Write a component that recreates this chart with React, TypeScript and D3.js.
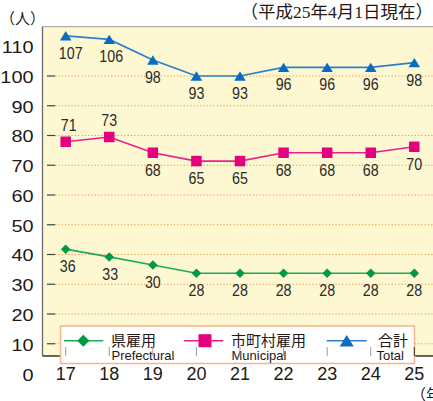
import React from "react";
import * as d3 from "d3";

const years = [17, 18, 19, 20, 21, 22, 23, 24, 25];
const yTicks = [0, 10, 20, 30, 40, 50, 60, 70, 80, 90, 100, 110];
const gridValues = [10, 20, 30, 40, 50, 60, 70, 80, 90, 100];

// plotted marker heights (as drawn in the reference) and printed labels
const prefecturalValues = [41.8, 39.2, 36.5, 33.7, 33.7, 33.7, 33.7, 33.7, 33.7];
const prefecturalLabels = ["36", "33", "30", "28", "28", "28", "28", "28", "28"];
const municipalValues = [77.9, 79.5, 74.2, 71.4, 71.4, 74.2, 74.2, 74.2, 76.2];
const municipalLabels = ["71", "73", "68", "65", "65", "68", "68", "68", "70"];
const totalValues = [113.5, 112.3, 105.4, 100, 100, 102.9, 102.9, 102.9, 104.5];
const totalLabels = ["107", "106", "98", "93", "93", "96", "96", "96", "98"];

const title = "（平成25年4月1日現在）";
const unitLabel = "（人）";
const yearUnit = "（年）";

const W = 433;
const H = 401;
const plotLeft = 42.5;
const plotTop = 26.7;
const plotBottom = 356;

const x = d3.scaleLinear().domain([17, 25]).range([65.7, 414.3]);
const y = d3.scaleLinear().domain([0, 100]).range([373.5, 76]);

type Shape = "diamond" | "square" | "triangle";

function markerPath(shape: Shape, cx: number, cy: number, s: number): string {
  if (shape === "diamond") {
    const r = s / 2;
    return `M${cx},${cy - r}L${cx + r},${cy}L${cx},${cy + r}L${cx - r},${cy}Z`;
  }
  if (shape === "square") {
    const r = s / 2;
    return `M${cx - r},${cy - r}H${cx + r}V${cy + r}H${cx - r}Z`;
  }
  const w = s / 2;
  const h = s * 0.82;
  return `M${cx},${cy - h / 2}L${cx + w},${cy + h / 2}L${cx - w},${cy + h / 2}Z`;
}

const series = [
  {
    name: "県雇用",
    en: "Prefectural",
    values: prefecturalValues,
    labels: prefecturalLabels,
    line: "#1faa5a",
    fill: "#009944",
    shape: "diamond" as Shape,
    size: 9.5,
    above: [false, false, false, false, false, false, false, false, false],
    dx: [2, 1, 0, 0, 0, 0, 0, 0, 0],
  },
  {
    name: "市町村雇用",
    en: "Municipal",
    values: municipalValues,
    labels: municipalLabels,
    line: "#e8208a",
    fill: "#e4007f",
    shape: "square" as Shape,
    size: 10.5,
    above: [true, true, false, false, false, false, false, false, false],
    dx: [3, 0, 0, 0, 0, 0, 0, 0, 0],
  },
  {
    name: "合計",
    en: "Total",
    values: totalValues,
    labels: totalLabels,
    line: "#2a80cc",
    fill: "#0a6cbf",
    shape: "triangle" as Shape,
    size: 11.5,
    above: [false, false, false, false, false, false, false, false, false],
    dx: [5, 2, 0, 0, 0, 0, 0, 0, 0],
  },
];

const legendItems = [
  { lx0: 64, lx1: 103.3, mx: 83.3, tx: 111, ex: 111.5 },
  { lx0: 184, lx1: 223.3, mx: 205, tx: 231, ex: 231.5 },
  { lx0: 326.7, lx1: 366.7, mx: 346.7, tx: 378, ex: 376.5 },
];

const numFont = "'Liberation Sans', Arial, Helvetica, sans-serif";
const cjkFont = "'Noto Sans CJK JP', 'Noto Sans', sans-serif";
const textColor = "#231815";

export default function App() {
  const lineGen = (vals: number[]) =>
    d3
      .line<number>()
      .x((_, i) => x(years[i]))
      .y((v) => y(v))(vals) || "";

  return (
    <svg
      width={W}
      height={H}
      viewBox={`0 0 ${W} ${H}`}
      style={{ position: "absolute", left: 0, top: 0, background: "#ffffff" }}
    >
      {/* plot background */}
      <rect x={plotLeft} y={plotTop} width={W - plotLeft} height={plotBottom - plotTop} fill="#fdf8d2" />

      {/* grid lines */}
      {gridValues.map((v) => (
        <line
          key={`g${v}`}
          x1={55}
          x2={W}
          y1={y(v)}
          y2={y(v)}
          stroke="#f29a55"
          strokeWidth={1}
          strokeDasharray="1.3 2"
        />
      ))}
      {/* inner tick dashes */}
      {gridValues.map((v) => (
        <line key={`t${v}`} x1={47} x2={55} y1={y(v)} y2={y(v)} stroke="#444" strokeWidth={1.2} />
      ))}

      {/* frame */}
      <line x1={plotLeft} x2={W} y1={plotTop} y2={plotTop} stroke="#9a9a9a" strokeWidth={1} />
      <line x1={plotLeft} x2={plotLeft} y1={plotTop} y2={plotBottom} stroke="#6a6a6a" strokeWidth={1.3} />
      <line x1={plotLeft} x2={W} y1={plotBottom} y2={plotBottom} stroke="#333" strokeWidth={1.3} />

      {/* y tick labels */}
      {yTicks.map((v) => (
        <text
          key={`yl${v}`}
          transform={`translate(33.5,${y(v) + 1.5 + (v === 0 ? 1 : 0)}) scale(1.22,1)`}
          textAnchor="end"
          dominantBaseline="central"
          fontFamily={numFont}
          fontSize={16.3}
          fill={textColor}
        >
          {v}
        </text>
      ))}

      {/* x tick labels */}
      {years.map((yr) => (
        <text
          key={`xl${yr}`}
          x={x(yr)}
          y={373.5}
          textAnchor="middle"
          dominantBaseline="central"
          fontFamily={numFont}
          fontSize={18}
          fill={textColor}
        >
          {yr}
        </text>
      ))}

      {/* series lines */}
      {series.map((s) => (
        <path key={`l${s.en}`} d={lineGen(s.values)} fill="none" stroke={s.line} strokeWidth={1.6} />
      ))}
      {/* markers */}
      {series.map((s) =>
        s.values.map((v, i) => (
          <path key={`m${s.en}${i}`} d={markerPath(s.shape, x(years[i]), y(v), s.size)} fill={s.fill} />
        ))
      )}
      {/* value labels */}
      {series.map((s) =>
        s.values.map((v, i) => (
          <text
            key={`v${s.en}${i}`}
            transform={`translate(${x(years[i]) + s.dx[i]},${y(v) + (s.above[i] ? -16.5 : 17)}) scale(0.84,1)`}
            textAnchor="middle"
            dominantBaseline="central"
            fontFamily={numFont}
            fontSize={17}
            fill="#2a2a2a"
          >
            {s.labels[i]}
          </text>
        ))
      )}

      {/* legend */}
      <rect x={60.5} y={326} width={354} height={37.5} fill="#ffffff" stroke="#f5b48a" strokeWidth={1.5} />
      {series.map((s, i) => {
        const it = legendItems[i];
        return (
          <g key={`lg${s.en}`}>
            <line x1={it.lx0} x2={it.lx1} y1={340.7} y2={340.7} stroke={s.line} strokeWidth={1.6} />
            <path d={markerPath(s.shape, it.mx, 340.7, s.size + 2.5)} fill={s.fill} />
            <text
              x={it.tx}
              y={339}
              dominantBaseline="central"
              fontFamily={cjkFont}
              fontSize={15}
              fill={textColor}
            >
              {s.name}
            </text>
            <text x={it.ex} y={359.5} fontFamily={numFont} fontSize={13} fill={textColor}>
              {s.en}
            </text>
          </g>
        );
      })}
      {/* x ticks drawn over legend */}
      {years.map((yr) => (
        <line
          key={`xt${yr}`}
          x1={x(yr)}
          x2={x(yr)}
          y1={347}
          y2={356}
          stroke={yr === 25 ? "#333" : "#9a9a9a"}
          strokeWidth={1}
        />
      ))}

      {/* titles */}
      <text x={0} y={17} dominantBaseline="central" fontFamily={cjkFont} fontSize={15} fill={textColor}>
        {unitLabel}
      </text>
      <text
        x={433}
        y={12}
        textAnchor="end"
        dominantBaseline="central"
        fontFamily={`'Liberation Serif', ${cjkFont}`}
        fontSize={17.5}
        fill={textColor}
      >
        {title}
      </text>
      <text x={411} y={393} dominantBaseline="central" fontFamily={cjkFont} fontSize={15} fill={textColor}>
        {yearUnit}
      </text>
    </svg>
  );
}
